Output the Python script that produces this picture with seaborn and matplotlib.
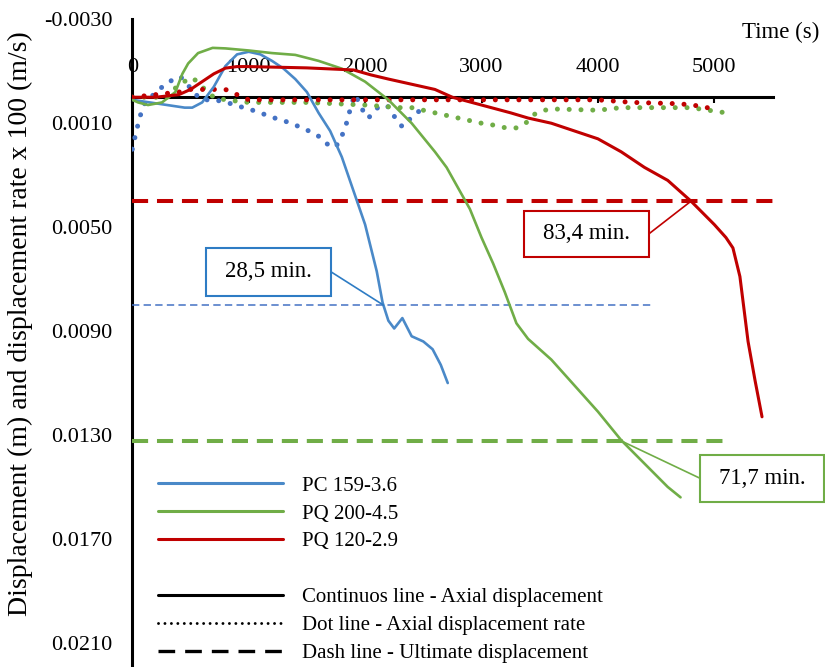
import numpy as np
import pandas as pd
import matplotlib
matplotlib.use("Agg")
import matplotlib.pyplot as plt
import seaborn as sns
from matplotlib.lines import Line2D
from matplotlib.patches import Rectangle
from matplotlib.ticker import FuncFormatter

# ---------------- data ----------------
series_names = ["PC 159-3.6", "PQ 200-4.5", "PQ 120-2.9"]

# axial displacement (m)
pc159_t = [0, 150, 300, 450, 515, 600, 700, 800, 900, 1000, 1100, 1200, 1300, 1400,
           1500, 1600, 1700, 1800, 1900, 2000, 2100, 2150, 2200, 2250, 2320, 2400,
           2500, 2580, 2650, 2710]
pc159_d = [0.0001, 0.0002, 0.0003, 0.0004, 0.0004, 0.0002, -0.0004, -0.0012, -0.00165,
           -0.00175, -0.00165, -0.0014, -0.0011, -0.0007, -0.0002, 0.0006, 0.0013,
           0.0023, 0.0036, 0.0049, 0.0067, 0.0079, 0.0086, 0.0089, 0.0085, 0.0092,
           0.0094, 0.0097, 0.0103, 0.0110]

pq200_t = [0, 50, 135, 255, 370, 430, 480, 565, 690, 800, 1000, 1200, 1400, 1600, 1800,
           2000, 2200, 2400, 2600, 2700, 2800, 2900, 3000, 3100, 3200, 3300, 3400, 3500,
           3600, 3800, 4000, 4200, 4400, 4600, 4710]
pq200_d = [0.0001, 0.0002, 0.0003, 0.0002, -0.0002, -0.0009, -0.0013, -0.0017, -0.0019,
           -0.00188, -0.0018, -0.0017, -0.00163, -0.0014, -0.0011, -0.0006, 0.0001,
           0.0010, 0.0021, 0.0027, 0.0035, 0.0043, 0.0054, 0.0064, 0.0075, 0.0087,
           0.0093, 0.0097, 0.0101, 0.0111, 0.0121, 0.0132, 0.0141, 0.0150, 0.0154]

pq120_t = [0, 200, 400, 500, 600, 700, 800, 900, 1000, 1500, 1900, 2050, 2200, 2400,
           2600, 2750, 3000, 3250, 3400, 3600, 3800, 4000, 4200, 4400, 4600, 4800, 5000,
           5100, 5160, 5220, 5290, 5350, 5410]
pq120_d = [0.0, 0.0, -0.0001, -0.0003, -0.0006, -0.0009, -0.00112, -0.00118, -0.00118,
           -0.00113, -0.00105, -0.00086, -0.0007, -0.0005, -0.0003, 0.0, 0.0003, 0.0006,
           0.0008, 0.0010, 0.0013, 0.0016, 0.0021, 0.0027, 0.0032, 0.0040, 0.0049,
           0.0054, 0.0058, 0.0069, 0.0094, 0.0109, 0.0123]

# axial displacement rate x 100 (m/s)
pc159_rt = [0, 30, 65, 110, 195, 295, 410, 460, 520, 600, 700, 800, 900, 1000, 1100,
            1200, 1300, 1400, 1500, 1600, 1700, 1750, 1800, 1840, 1870, 1910, 1950, 2000,
            2030, 2080, 2140, 2200, 2260, 2320, 2370, 2420, 2500]
pc159_r = [0.0020, 0.0014, 0.00075, 0.0002, -0.00015, -0.00055, -0.0008, -0.0006,
           -0.0002, 0.0001, 0.0001, 0.00018, 0.00033, 0.00045, 0.0006, 0.00077, 0.0009,
           0.00107, 0.00126, 0.0015, 0.0019, 0.0019, 0.0015, 0.0010, 0.0005, -0.0001,
           0.0002, 0.0007, 0.0008, 0.0005, 0.0003, 0.00037, 0.0008, 0.00114, 0.0009,
           0.0007, 0.0004]

pq200_rt = [0, 150, 300, 380, 470, 520, 600, 700, 800, 1000, 1500, 2000, 2300, 2400,
            2600, 2800, 3000, 3100, 3200, 3300, 3390, 3460, 3520, 3600, 4000, 4200,
            4800, 5100]
pq200_r = [0.0, 0.0, 0.0, -0.0004, -0.00067, -0.00075, -0.0004, 0.0, 0.0001, 0.0002,
           0.0002, 0.0003, 0.0004, 0.0004, 0.0006, 0.0008, 0.0010, 0.00107, 0.00117,
           0.00118, 0.00096, 0.00064, 0.00052, 0.00045, 0.0005, 0.0004, 0.0004, 0.0006]

pq120_rt = [0, 200, 400, 500, 600, 800, 900, 1000, 1500, 2000, 2500, 3000, 3500, 4000,
            4300, 4700, 4900, 5000]
pq120_r = [0.0, -0.0001, -0.0002, -0.0003, -0.0003, -0.0003, -0.0001, 0.0001, 0.0001,
           0.0001, 0.0001, 0.0001, 0.0001, 0.0001, 0.0002, 0.00025, 0.00035, 0.00048]

# ultimate displacement levels (m) and how far each dashed line runs (s)
ultimate_level = [0.0080, 0.01325, 0.0040]
ultimate_end = [4470, 5100, 5500]

# failure times written in the call-outs
failure_labels = ["28,5 min.", "71,7 min.", "83,4 min."]

x_ticks = [0, 1000, 2000, 3000, 4000, 5000]
y_ticks = [-0.0030, 0.0010, 0.0050, 0.0090, 0.0130, 0.0170, 0.0210]

# ---------------- style ----------------
sns.set_theme(style="white")
plt.rcParams["font.family"] = ["Liberation Serif", "DejaVu Serif"]
plt.rcParams.update({"text.color": "black", "axes.labelcolor": "black",
                     "xtick.color": "black", "ytick.color": "black",
                     "axes.edgecolor": "black"})

solid_colors = ["#4A89C8", "#70AD47", "#C00000"]
dot_colors = ["#4472C4", "#70AD47", "#C00000"]
dash_colors = ["#4472C4", "#70AD47", "#C00000"]
box_colors = ["#2E7CC4", "#70AD47", "#C00000"]

fig = plt.figure(figsize=(8.25, 6.67), dpi=100)
ax = fig.add_axes([132.3 / 825, 0.0, 640.2 / 825, 1 - 19.3 / 667])

disp = [(pc159_t, pc159_d), (pq200_t, pq200_d), (pq120_t, pq120_d)]
rate = [(pc159_rt, pc159_r), (pq200_rt, pq200_r), (pq120_rt, pq120_r)]

# dotted displacement-rate curves
for (t, r), c in zip(rate, dot_colors):
    df = pd.DataFrame({"t": t, "v": r})
    sns.lineplot(data=df, x="t", y="v", ax=ax, color=c, lw=3.6, sort=False,
                 estimator=None, linestyle=(0, (0.01, 2.35)),
                 dash_capstyle="round", zorder=3, legend=False)

# ultimate displacement dashed lines
dash_specs = [(1.1, (0, (4.8, 2.8))), (2.9, (0, (4.0, 2.2))), (2.9, (0, (4.0, 2.2)))]
for lev, end, c, (lw, ls) in zip(ultimate_level, ultimate_end, dash_colors, dash_specs):
    df = pd.DataFrame({"t": [0, end], "v": [lev, lev]})
    sns.lineplot(data=df, x="t", y="v", ax=ax, color=c, lw=lw, linestyle=ls,
                 estimator=None, zorder=3, legend=False)

# solid displacement curves
solid_lw = [1.9, 1.9, 2.2]
for (t, d), c, lw in zip(disp, solid_colors, solid_lw):
    df = pd.DataFrame({"t": t, "v": d})
    sns.lineplot(data=df, x="t", y="v", ax=ax, color=c, lw=lw, sort=False,
                 estimator=None, zorder=4, legend=False)


def crossing(t, v, level):
    t = np.asarray(t, float)
    v = np.asarray(v, float)
    for i in range(int(np.argmin(v)), len(v) - 1):
        if v[i] < level <= v[i + 1]:
            return t[i] + (level - v[i]) * (t[i + 1] - t[i]) / (v[i + 1] - v[i])
    return t[-1]


# call-out boxes: (left, right, top, bottom) in data units, and attach side
boxes = [(633, 1707, 0.0058, 0.00764, "right"),
         (4877, 5942, 0.01376, 0.01557, "left"),
         (3365, 4439, 0.00437, 0.00614, "right")]
for (t, d), lev, lab, col, (x0, x1, y0, y1, side) in zip(
        disp, ultimate_level, failure_labels, box_colors, boxes):
    xc = crossing(t, d, lev)
    ax.add_patch(Rectangle((x0, y0), x1 - x0, y1 - y0, fill=True, fc="white",
                           ec=col, lw=1.5, clip_on=False, zorder=6))
    ax.text((x0 + x1) / 2, (y0 + y1) / 2, lab, ha="center", va="center",
            fontsize=16.5, zorder=7)
    ax_pt = x1 if side == "right" else x0
    ym = (y0 + y1) / 2
    ax.plot([ax_pt, xc], [ym, lev], color=col, lw=1.2, zorder=5, clip_on=False)

# axes
ax.set_xlim(0, 5500)
ax.set_ylim(0.02193, -0.003)
ax.set_xlabel("")
ax.set_ylabel("")
for s in ["bottom", "right"]:
    ax.spines[s].set_visible(False)
ax.spines["top"].set_position(("data", 0))
ax.spines["top"].set_linewidth(2.2)
ax.spines["top"].set_zorder(2.5)
ax.spines["left"].set_linewidth(2.2)
ax.xaxis.set_ticks_position("top")
ax.set_xticks(x_ticks)
ax.set_xticklabels([str(v) for v in x_ticks])
ax.set_yticks(y_ticks)
ax.yaxis.set_major_formatter(FuncFormatter(lambda v, p: f"{v:.4f}".replace("\u2212", "-")))
ax.tick_params(axis="x", direction="in", length=4.5, width=1.5, pad=14.5, labelsize=16)
ax.tick_params(axis="y", direction="in", length=5, width=1.5, pad=14.4, labelsize=16)

fig.text(20 / 825, 1 - 324 / 667, "Displacement (m) and displacement rate x 100 (m/s)",
         rotation=90, ha="center", va="center", fontsize=20)
fig.text(781 / 825, 1 - 32 / 667, "Time (s)", ha="center", va="center", fontsize=16.5)

# legend
handles = [Line2D([], [], color=c, lw=2.2) for c in solid_colors]
handles.append(Line2D([], [], color="none"))
handles += [Line2D([], [], color="black", lw=2.2),
            Line2D([], [], color="black", lw=2.1, linestyle=(0, (0.01, 2.2)),
                   dash_capstyle="round"),
            Line2D([], [], color="black", lw=2.4, linestyle=(0, (5.0, 3.0)))]
labels = series_names + [" ", "Continuos line - Axial displacement",
                         "Dot line - Axial displacement rate",
                         "Dash line - Ultimate displacement"]
fig.legend(handles, labels, loc="upper left", bbox_to_anchor=(158 / 825, 1 - 476 / 667),
           frameon=False, fontsize=15, handlelength=6.0, handletextpad=0.9,
           labelspacing=0.4, borderpad=0, borderaxespad=0)

fig.savefig("out.png", dpi=100)
